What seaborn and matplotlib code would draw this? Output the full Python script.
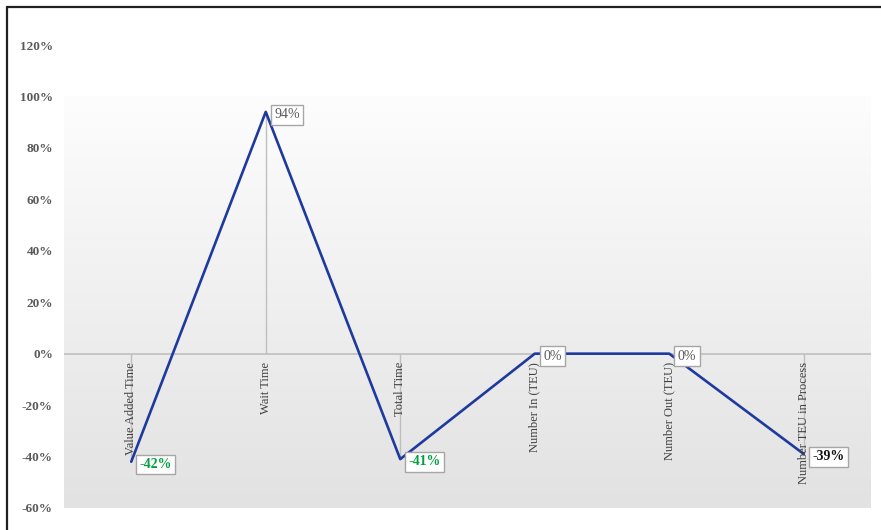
import numpy as np
import pandas as pd
import matplotlib
matplotlib.use("Agg")
import matplotlib.pyplot as plt
from matplotlib.lines import Line2D
from matplotlib.colors import LinearSegmentedColormap
import seaborn as sns

categories = ["Value Added Time", "Wait Time", "Total Time", "Number In (TEU)",
              "Number Out (TEU)", "Number TEU in Process"]
values = [-0.42, 0.94, -0.41, 0.0, 0.0, -0.39]
label_texts = ["-42%", "94%", "-41%", "0%", "0%", "-39%"]
label_colors = ["#00A040", "#595959", "#00A040", "#595959", "#595959", "#111111"]
label_weights = ["bold", "normal", "bold", "normal", "normal", "bold"]
yticks = [-0.6, -0.4, -0.2, 0.0, 0.2, 0.4, 0.6, 0.8, 1.0, 1.2]

sns.set_style("white")
plt.rcParams["font.family"] = ["Liberation Serif", "DejaVu Serif"]

W, H = 881, 530
fig = plt.figure(figsize=(W / 100, H / 100), dpi=100)
ax = fig.add_axes([64 / W, 1 - 508 / H, (871 - 64) / W, (508 - 45) / H])

df = pd.DataFrame({"x": np.arange(len(categories)), "v": values})

# gradient background for plot area (from -60% to 100%)
grad = np.linspace(0, 1, 256).reshape(-1, 1)
cmap = LinearSegmentedColormap.from_list("g", ["#E2E2E2", "#FDFDFD"])
ax.imshow(grad, extent=[-0.5, len(categories) - 0.5, -0.6, 1.0], origin="lower",
          cmap=cmap, aspect="auto", zorder=0)

# zero line and drop lines
ax.axhline(0, color="#BFBFBF", lw=1.2, zorder=1)
ax.vlines(df["x"], 0, df["v"], color="#BFBFBF", lw=1.0, zorder=1)

sns.lineplot(data=df, x="x", y="v", ax=ax, color="#1E3A9E", lw=1.9, zorder=3)

ax.set_xlim(-0.5, len(categories) - 0.5)
ax.set_ylim(-0.6, 1.2)
ax.set_yticks(yticks)
ax.set_yticklabels([f"{int(round(t * 100))}%" for t in yticks],
                   fontsize=9.5, color="#595959", fontweight="bold")
ax.tick_params(axis="y", length=0, pad=8)
ax.set_xticks([])
ax.set_xlabel("")
ax.set_ylabel("")
for s in ax.spines.values():
    s.set_visible(False)

# rotated category labels below the zero line
for i, c in enumerate(categories):
    ax.annotate(c, xy=(i, 0), xytext=(0, -6), textcoords="offset points",
                rotation=90, ha="center", va="top", fontsize=9, color="#404040",
                zorder=4)

# data labels
for i, (v, t, col, wt) in enumerate(zip(values, label_texts, label_colors, label_weights)):
    ax.annotate(t, xy=(i, v), xytext=(6, -2), textcoords="offset points",
                ha="left", va="center", fontsize=10, color=col, fontweight=wt,
                bbox=dict(boxstyle="square,pad=0.25", fc="white", ec="#A6A6A6", lw=1.0),
                zorder=5)

# figure frame (top and left edges)
fig.add_artist(Line2D([7 / W, 1], [1 - 7 / H, 1 - 7 / H], color="#222222", lw=1.6,
                      transform=fig.transFigure))
fig.add_artist(Line2D([7 / W, 7 / W], [0, 1 - 7 / H], color="#222222", lw=1.6,
                      transform=fig.transFigure))

fig.savefig("out.png", dpi=100)
